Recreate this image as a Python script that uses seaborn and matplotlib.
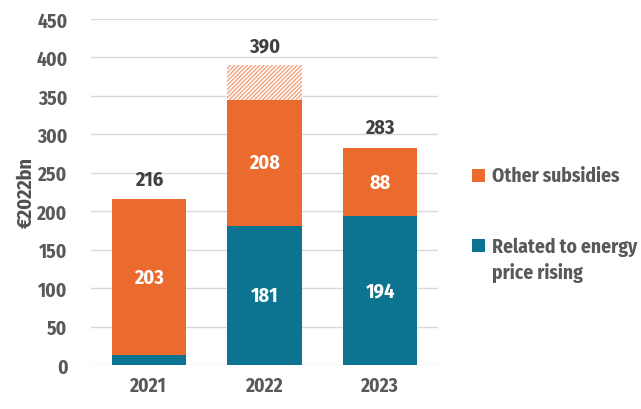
import matplotlib
matplotlib.use("Agg")
import matplotlib.pyplot as plt
from matplotlib.patches import Rectangle
import pandas as pd
import seaborn as sns

years = ["2021", "2022", "2023"]
energy = [13, 181, 194]          # related to energy price rising
other_solid = [203, 164, 88]     # other subsidies (solid part)
other_hatch = [0, 45, 0]         # hatched upper part of 2022
other_labels = [203, 208, 88]
energy_labels = [None, 181, 194]
totals = [216, 390, 283]

ORANGE = "#EA6B2D"
TEAL = "#0C7490"
FONT = ["Fira Sans Condensed", "DejaVu Sans"]

sns.set_theme(style="white")
plt.rcParams["font.family"] = FONT
plt.rcParams["font.weight"] = "bold"
plt.rcParams["hatch.linewidth"] = 1.0

df = pd.DataFrame({"year": years, "energy": energy,
                   "solid": [e + o for e, o in zip(energy, other_solid)],
                   "top": [e + o + h for e, o, h in zip(energy, other_solid, other_hatch)]})

W, H = 641, 410
fig = plt.figure(figsize=(W / 100, H / 100), dpi=100)
ax = fig.add_axes([91 / W, 44 / H, 347 / W, 346 / H])

sns.barplot(data=df, x="year", y="top", color="white", width=0.64, ax=ax,
            saturation=1, linewidth=0)
for p in ax.patches:
    p.set_hatch("////////")
    p.set_edgecolor("#F2A47E")
    p.set_linewidth(0)
sns.barplot(data=df, x="year", y="solid", color=ORANGE, width=0.64, ax=ax,
            saturation=1, linewidth=0)
sns.barplot(data=df, x="year", y="energy", color=TEAL, width=0.64, ax=ax,
            saturation=1, linewidth=0)

ax.set_ylim(0, 450)
ax.set_xlim(-0.5, 2.5)
ax.set_yticks(range(0, 451, 50))
ax.yaxis.grid(True, color="#D9D9D9", linewidth=1)
ax.set_axisbelow(True)
for s in ax.spines.values():
    s.set_visible(False)
ax.set_xlabel("")
ax.set_ylabel("€2022bn", fontsize=14.5, color="#505050", fontweight="bold", labelpad=0)
ax.tick_params(axis="y", length=0, labelsize=14, labelcolor="#595959", pad=17)
ax.tick_params(axis="x", length=0, labelsize=14, labelcolor="#595959", pad=8)
for t in ax.get_xticklabels() + ax.get_yticklabels():
    t.set_fontweight("bold")

for i in range(len(years)):
    mid_o = energy[i] + other_solid[i] / 2
    ax.text(i, mid_o, str(other_labels[i]), ha="center", va="center",
            color="white", fontsize=14.5, fontweight="bold")
    if energy_labels[i] is not None:
        ax.text(i, energy[i] / 2, str(energy_labels[i]), ha="center", va="center",
                color="white", fontsize=14.5, fontweight="bold")
    ax.text(i, totals[i] + 13, str(totals[i]), ha="center", va="bottom",
            color="#404040", fontsize=14.5, fontweight="bold")

# legend drawn by hand so the square lines up with the first text line
for col, y_px, label, ty in [(ORANGE, 176, "Other subsidies", 176),
                             (TEAL, 246, "Related to energy\nprice rising", 260.5)]:
    fig.add_artist(Rectangle((472 / W, 1 - (y_px + 6.5) / H), 13 / W, 13 / H,
                             transform=fig.transFigure, facecolor=col, linewidth=0))
    fig.text(492 / W, 1 - ty / H, label, ha="left", va="center", fontsize=14,
             color="#595959", fontweight="bold", linespacing=1.35)

fig.savefig("out.png", dpi=100)
